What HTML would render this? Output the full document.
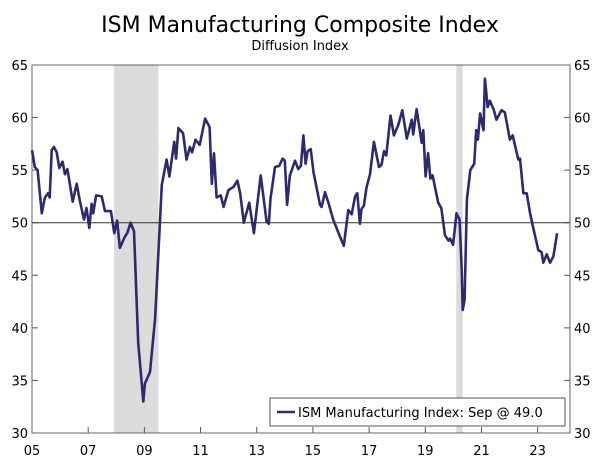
<!DOCTYPE html>
<html><head><meta charset="utf-8"><style>
body{margin:0;background:#fff;}
svg{display:block;font-family:"DejaVu Sans","Liberation Sans",sans-serif;}
</style></head><body>
<svg id="c" width="600" height="461">
<text x="300" y="32" text-anchor="middle" font-size="22" fill="#000">ISM Manufacturing Composite Index</text>
<text x="300" y="50" text-anchor="middle" font-size="13" fill="#000">Diffusion Index</text>
<g id="g"></g>
</svg>
<script>
const dates=[2005.0,2005.1,2005.2,2005.35,2005.46,2005.57,2005.63,2005.7,2005.78,2005.88,2005.97,2006.09,2006.17,2006.26,2006.45,2006.59,2006.7,2006.85,2006.94,2007.04,2007.12,2007.18,2007.28,2007.48,2007.6,2007.81,2007.93,2008.03,2008.13,2008.31,2008.39,2008.51,2008.63,2008.78,2008.96,2009.02,2009.2,2009.38,2009.62,2009.79,2009.89,2010.06,2010.13,2010.21,2010.38,2010.5,2010.62,2010.7,2010.82,2010.97,2011.16,2011.32,2011.4,2011.48,2011.57,2011.72,2011.82,2011.99,2012.17,2012.31,2012.41,2012.54,2012.73,2012.9,2013.14,2013.35,2013.43,2013.49,2013.65,2013.8,2013.92,2014.0,2014.08,2014.18,2014.36,2014.48,2014.57,2014.66,2014.74,2014.81,2014.92,2015.02,2015.25,2015.31,2015.43,2015.55,2015.72,2015.96,2016.1,2016.26,2016.38,2016.5,2016.58,2016.67,2016.73,2016.81,2016.91,2017.03,2017.17,2017.35,2017.44,2017.53,2017.61,2017.76,2017.88,2018.04,2018.18,2018.34,2018.52,2018.57,2018.69,2018.87,2018.93,2019.01,2019.1,2019.18,2019.26,2019.46,2019.57,2019.7,2019.82,2019.88,2019.99,2020.11,2020.22,2020.3,2020.33,2020.4,2020.48,2020.6,2020.74,2020.81,2020.87,2020.95,2021.07,2021.12,2021.22,2021.3,2021.44,2021.53,2021.71,2021.83,2022.01,2022.11,2022.19,2022.31,2022.37,2022.49,2022.61,2022.73,2022.85,2023.02,2023.14,2023.2,2023.32,2023.44,2023.56,2023.69];
const values=[56.9,55.3,55.0,50.9,52.4,52.8,52.4,56.9,57.2,56.7,55.2,55.8,54.6,55.1,52.0,53.7,52.1,50.3,51.4,49.5,51.8,50.9,52.6,52.5,51.1,51.1,49.0,50.2,47.6,48.7,49.0,50.0,49.2,38.6,33.0,34.7,35.8,40.9,53.6,56.0,54.4,57.7,56.1,59.0,58.5,56.0,57.2,56.7,57.9,57.4,59.9,59.1,53.7,56.6,52.4,52.6,51.5,53.1,53.4,54.0,52.8,50.0,51.9,49.0,54.5,50.1,49.9,52.3,55.3,55.4,56.1,55.9,51.7,54.5,55.9,55.1,55.4,58.3,55.6,56.8,57.0,54.8,51.7,51.5,52.9,51.9,50.3,48.7,47.8,51.2,50.8,52.5,52.8,49.9,51.3,51.6,53.4,54.6,57.7,55.3,55.5,56.8,56.4,60.2,58.3,59.3,60.7,58.0,59.8,58.4,60.8,57.6,58.8,54.4,56.6,54.2,54.5,51.9,51.4,48.8,48.3,48.5,47.9,50.9,50.3,45.2,41.7,42.7,52.2,55.0,55.6,58.8,57.9,60.4,58.8,63.7,61.0,61.6,60.7,59.8,60.7,60.5,57.9,58.3,57.4,56.0,56.1,52.8,52.8,50.9,49.4,47.4,47.2,46.2,47.0,46.2,46.8,49.0];
const yTicks=[30,35,40,45,50,55,60,65];
const xTickYears=[2005,2007,2009,2011,2013,2015,2017,2019,2021,2023];
const xTickLabels=["05","07","09","11","13","15","17","19","21","23"];
const recessions=[[2007.92,2009.5],[2020.1,2020.33]];
const L=32,R=570,T=65,B=433,X0=2005,X1=2024.15,Y0=30,Y1=65;
const sx=d=>L+(d-X0)/(X1-X0)*(R-L);
const sy=v=>B-(v-Y0)/(Y1-Y0)*(B-T);
const g=document.getElementById('g');
const NS='http://www.w3.org/2000/svg';
function mk(t,a){const e=document.createElementNS(NS,t);for(const k in a)e.setAttribute(k,a[k]);g.appendChild(e);return e;}
recessions.forEach(r=>{const e=mk('rect',{x:sx(r[0]),y:T,width:sx(r[1])-sx(r[0]),height:B-T,fill:'#dcdcdc'});

});
yTicks.forEach(v=>{
 const a=mk('line',{x1:L,x2:L+6,y1:sy(v),y2:sy(v),stroke:'#555'});
 const b=mk('line',{x1:R-6,x2:R,y1:sy(v),y2:sy(v),stroke:'#555'});
 const t1=mk('text',{x:L-4,y:sy(v)+5,'text-anchor':'end','font-size':13});t1.textContent=v;
 const t2=mk('text',{x:R+4,y:sy(v)+5,'text-anchor':'start','font-size':13});t2.textContent=v;
});
xTickYears.forEach((y,i)=>{
 const a=mk('line',{x1:sx(y),x2:sx(y),y1:B,y2:B-6,stroke:'#555'});
 const t=mk('text',{x:sx(y),y:455,'text-anchor':'middle','font-size':13});t.textContent=xTickLabels[i];
});
const ref=mk('line',{x1:L,x2:R,y1:sy(50),y2:sy(50),stroke:'#333','stroke-width':1});


const fr=mk('rect',{x:L,y:T,width:R-L,height:B-T,fill:'none',stroke:'#666','stroke-width':1});


const pts=dates.map((d,i)=>sx(d).toFixed(1)+','+sy(values[i]).toFixed(1)).join(' ');
const ln=mk('polyline',{points:pts,fill:'none',stroke:'#2e2a6e','stroke-width':2.6,'stroke-linejoin':'round'});


const lb=mk('rect',{x:270,y:398,width:295,height:28,fill:'#fff',stroke:'#555'});


const ll=mk('line',{x1:277,x2:295,y1:412,y2:412,stroke:'#2e2a6e','stroke-width':2.6});


const lt=mk('text',{x:298,y:417,'font-size':13});
lt.textContent='ISM Manufacturing Index: Sep @ 49.0';


</script>
</body></html>
